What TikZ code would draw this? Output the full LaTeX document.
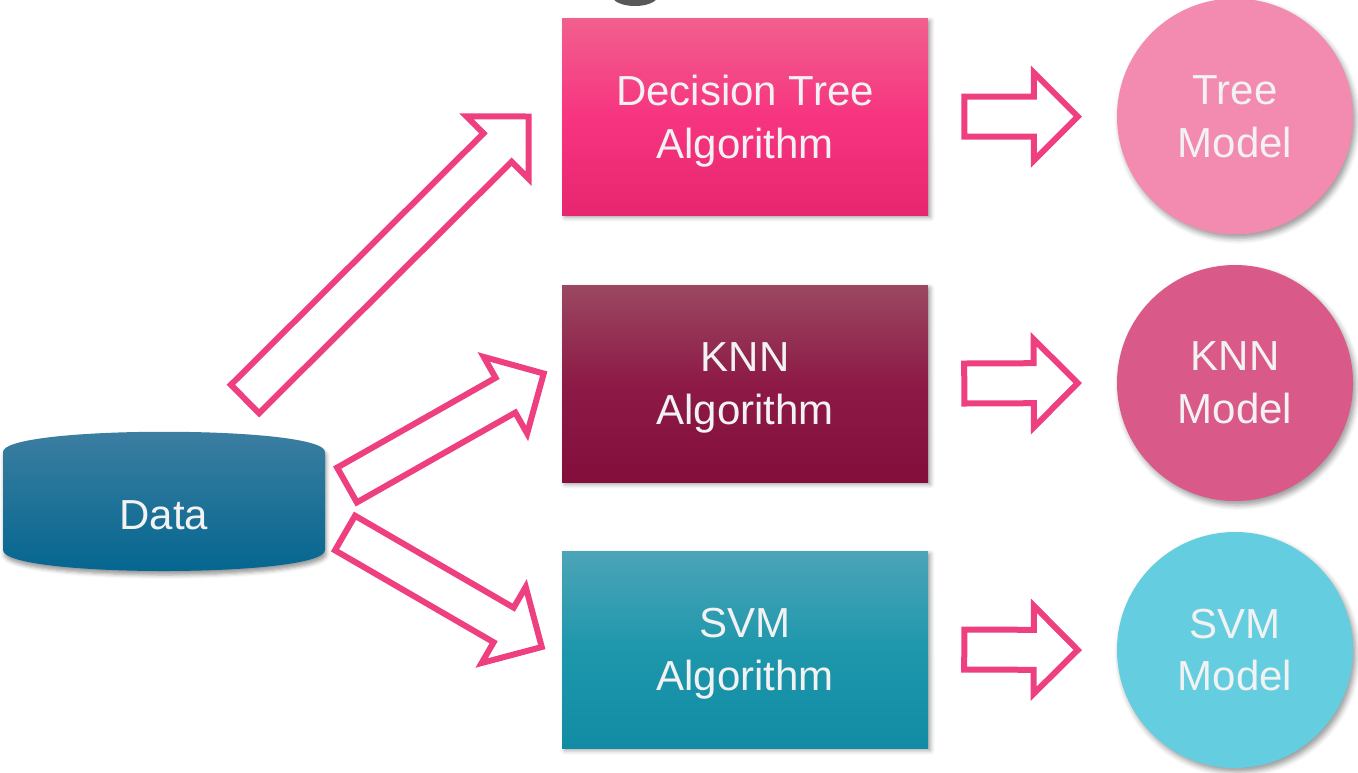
\documentclass[tikz,border=0pt]{standalone}
\usepackage{fontspec}
\setmainfont{Liberation Sans}
\usetikzlibrary{calc}
\usetikzlibrary{shadows.blur}

\definecolor{arrowpink}{RGB}{238,64,128}
\definecolor{titlegray}{RGB}{88,88,90}
\definecolor{datatop}{RGB}{62,127,162}
\definecolor{databot}{RGB}{2,101,143}
\definecolor{treemodel}{RGB}{243,138,176}
\definecolor{knnmodel}{RGB}{217,90,137}
\definecolor{svmmodel}{RGB}{100,206,224}

\begin{document}
\begin{tikzpicture}[x=0.75pt, y=-0.75pt,
  algo/.style={rectangle, minimum width=274.5pt, minimum height=147.75pt,
    text=white!95!black, align=center, font=\fontsize{31.5}{39.5}\selectfont, text depth=0pt,
    blur shadow={shadow xshift=2pt, shadow yshift=-2pt, shadow blur radius=3pt, shadow opacity=35}},
  model/.style={circle, minimum size=177pt, inner sep=0pt,
    text=white!95!black, align=center, font=\fontsize{31.5}{39.5}\selectfont,
    blur shadow={shadow xshift=2pt, shadow yshift=-3pt, shadow blur radius=4pt, shadow opacity=40}},
  hollow/.style={draw=arrowpink, line width=4.5pt, fill=white}]
\clip (0,0) rectangle (1358,772);

  % bit of the heading above
  \fill[titlegray] (635,-4) ellipse [x radius=17pt, y radius=7.5pt];

  % data store
  \path[top color=datatop, bottom color=databot,
        blur shadow={shadow xshift=1pt, shadow yshift=-3pt, shadow blur radius=3pt, shadow opacity=40}]
    (3,452) .. controls (3,425) and (325,425) .. (325,452) -- (325,550)
    .. controls (325,578) and (3,578) .. (3,550) -- cycle;
  \node[text=white!95!black, font=\fontsize{31.5}{38}\selectfont] (data) at (164,515) {Data};

  % algorithms
  \node[algo, top color={rgb,255:red,241;green,96;blue,142}, bottom color={rgb,255:red,231;green,38;blue,111},
        middle color={rgb,255:red,247;green,52;blue,128}] (dt) at (745,116.5) {Decision Tree\\Algorithm};
  \node[algo, top color={rgb,255:red,155;green,72;blue,97}, bottom color={rgb,255:red,131;green,14;blue,60},
        middle color={rgb,255:red,141;green,26;blue,70}] (knn) at (745,383.5) {KNN\\Algorithm};
  \node[algo, top color={rgb,255:red,76;green,164;blue,183}, bottom color={rgb,255:red,17;green,140;blue,164},
        middle color={rgb,255:red,30;green,151;blue,172}] (svm) at (745,649.5) {SVM\\Algorithm};

  % models
  \node[model, fill=treemodel] (treem) at (1235,116.5) {Tree\\Model};
  \node[model, fill=knnmodel] (knnm) at (1235,383) {KNN\\Model};
  \node[model, fill=svmmodel] (svmm) at (1235,650) {SVM\\Model};

  % arrow ends
  \coordinate (d1) at (245,399);
  \coordinate (d2) at (347,485);
  \coordinate (d3) at (345,533);
  \coordinate (a1) at ($(dt.west)+(-33,0)$);
  \coordinate (a2) at ($(knn.west)+(-18,-10)$);
  \coordinate (a3) at ($(svm.west)+(-20,-2.5)$);
  \coordinate (r1) at ($(dt.east)+(36,0)$);
  \coordinate (r2) at ($(knn.east)+(36,0)$);
  \coordinate (r3) at ($(svm.east)+(36,0)$);
  \coordinate (m1) at ($(treem.west)+(-39,0)$);
  \coordinate (m2) at ($(knnm.west)+(-39,0)$);
  \coordinate (m3) at ($(svmm.west)+(-39,0)$);

  % hollow block arrows
  \foreach \from/\to in {d1/a1, d2/a2, d3/a3, r1/m1, r2/m2, r3/m3} {
    \coordinate (head) at ($(\to)!33pt!(\from)$);
    \draw[hollow] ($(\from)!15pt!90:(\to)$) -- ($(head)!15pt!90:(\to)$)
      -- ($(head)!33pt!90:(\to)$) -- (\to) -- ($(head)!33pt!-90:(\to)$)
      -- ($(head)!15pt!-90:(\to)$) -- ($(\from)!15pt!-90:(\to)$) -- cycle;
  }
\end{tikzpicture}
\end{document}
